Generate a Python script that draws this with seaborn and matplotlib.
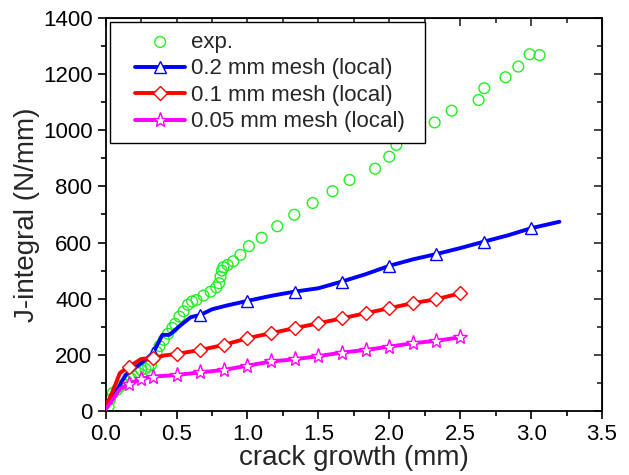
import numpy as np
import pandas as pd
import seaborn as sns
import matplotlib.pyplot as plt
from matplotlib.ticker import MultipleLocator
from matplotlib.patches import Rectangle

sns.set_style("ticks")
plt.rcParams['font.family'] = ['Liberation Sans', 'DejaVu Sans']

# experimental data
exp_x = [0.02, 0.03, 0.05, 0.08, 0.10, 0.13, 0.15, 0.18, 0.20, 0.23,
         0.25, 0.28, 0.30, 0.32, 0.34, 0.36, 0.38, 0.41, 0.44, 0.47,
         0.49, 0.52, 0.55, 0.58, 0.61, 0.64, 0.69, 0.74, 0.78, 0.80,
         0.81, 0.82, 0.83, 0.86, 0.90, 0.95, 1.01, 1.10, 1.21, 1.33,
         1.46, 1.60, 1.72, 1.90, 2.00, 2.05, 2.32, 2.44, 2.63, 2.67,
         2.82, 2.91, 2.99, 3.06]
exp_y = [15, 40, 63, 75, 87, 95, 104, 115, 122, 135,
         146, 150, 158, 164, 188, 210, 231, 253, 275, 295,
         310, 336, 355, 378, 390, 395, 411, 425, 440, 455,
         478, 500, 512, 520, 533, 556, 587, 617, 658, 699,
         741, 783, 823, 863, 906, 948, 1028, 1070, 1108, 1150,
         1189, 1227, 1271, 1268]

# 0.2 mm mesh
m02_x = [0.0, 0.07, 0.14, 0.25, 0.333, 0.40, 0.45, 0.53, 0.60, 0.667,
         0.75, 0.85, 1.0, 1.167, 1.333, 1.5, 1.667, 1.833, 2.0, 2.167,
         2.333, 2.5, 2.667, 2.833, 3.0, 3.2]
m02_y = [15, 64, 128, 170, 205, 271, 271, 306, 334, 342,
         362, 375, 392, 410, 425, 437, 461, 487, 517, 540,
         559, 580, 603, 625, 651, 674]
m02_marks = [4, 9, 12, 14, 16, 18, 20, 22, 24]

# 0.1 mm mesh
m01_x = [0.0, 0.05, 0.10, 0.167, 0.25, 0.333, 0.42, 0.5, 0.667, 0.833,
         1.0, 1.167, 1.333, 1.5, 1.667, 1.833, 2.0, 2.167, 2.333, 2.5]
m01_y = [15, 70, 135, 158, 185, 188, 198, 203, 217, 235,
         259, 277, 295, 312, 330, 348, 366, 384, 398, 419]
m01_marks = [3, 5, 7, 8, 9, 10, 11, 12, 13, 14, 15, 16, 17, 18, 19]

# 0.05 mm mesh
m005_x = [0.0, 0.05, 0.10, 0.167, 0.25, 0.333, 0.5, 0.667, 0.833, 1.0,
          1.167, 1.333, 1.5, 1.667, 1.833, 2.0, 2.167, 2.333, 2.5]
m005_y = [5, 40, 78, 96, 115, 122, 128, 137, 146, 161,
          176, 184, 195, 208, 217, 229, 241, 250, 262]
m005_marks = list(range(3, 19))

fig = plt.figure(figsize=(6.29, 4.75), dpi=100)
ax = fig.add_axes([0.168, 0.135, 0.789, 0.827])

sns.scatterplot(x=exp_x, y=exp_y, ax=ax, marker='o', s=60,
                facecolor='none', edgecolor='#22ee22', linewidth=1.0,
                label='exp.', zorder=2)
sns.scatterplot(x=exp_x, y=exp_y, ax=ax, marker='.', s=1,
                color='#22ee22', linewidth=0, zorder=2)

series = [
    (m02_x, m02_y, m02_marks, '#0000ff', '^', 9, '0.2 mm mesh (local)'),
    (m01_x, m01_y, m01_marks, '#ff0000', 'D', 7.5, '0.1 mm mesh (local)'),
    (m005_x, m005_y, m005_marks, '#ff00ff', '*', 11, '0.05 mm mesh (local)'),
]
for xs, ys, marks, col, mk, ms, lab in series:
    df = pd.DataFrame({'x': xs, 'y': ys})
    sns.lineplot(data=df, x='x', y='y', ax=ax, color=col, linewidth=2.8,
                 marker=mk, markersize=ms, markerfacecolor='white',
                 markeredgecolor=col, markeredgewidth=1.0,
                 markevery=marks, sort=False, estimator=None,
                 label=lab, zorder=3)

ax.set_xlim(0, 3.5)
ax.set_ylim(0, 1400)
ax.xaxis.set_major_locator(MultipleLocator(0.5))
ax.xaxis.set_minor_locator(MultipleLocator(0.25))
ax.yaxis.set_major_locator(MultipleLocator(200))
ax.yaxis.set_minor_locator(MultipleLocator(100))
ax.xaxis.set_major_formatter(plt.FormatStrFormatter('%.1f'))
ax.tick_params(which='both', direction='out', colors='black', labelsize=16,
               width=1.2)
ax.tick_params(which='major', length=6)
ax.tick_params(which='minor', length=3.5)
for sp in ax.spines.values():
    sp.set_color('black')
    sp.set_linewidth(1.3)

# mirrored ticks (inward) on top and right
top = ax.secondary_xaxis('top')
top.xaxis.set_major_locator(MultipleLocator(0.5))
top.xaxis.set_minor_locator(MultipleLocator(0.25))
top.tick_params(which='both', direction='in', labeltop=False, width=1.2)
top.tick_params(which='major', length=6)
top.tick_params(which='minor', length=3.5)
right = ax.secondary_yaxis('right')
right.yaxis.set_major_locator(MultipleLocator(200))
right.yaxis.set_minor_locator(MultipleLocator(100))
right.tick_params(which='both', direction='in', labelright=False, width=1.2)
right.tick_params(which='major', length=6)
right.tick_params(which='minor', length=3.5)

ax.set_xlabel('crack growth (mm)', fontsize=20, labelpad=0)
ax.set_ylabel('J-integral (N/mm)', fontsize=20, labelpad=2)

# legend box drawn separately so the side padding can be wider
ax.add_patch(Rectangle((0.009, 0.682), 0.6345, 0.308, transform=ax.transAxes,
                       facecolor='white', edgecolor='black', linewidth=1.0,
                       zorder=4))
leg = ax.legend(loc='upper left', bbox_to_anchor=(0.0594, 0.965), fontsize=16,
                frameon=False, handlelength=2.25, borderpad=0,
                labelspacing=0.25, handletextpad=0.27, borderaxespad=0)
leg.set_zorder(5)

fig.savefig('out.png', dpi=100)
